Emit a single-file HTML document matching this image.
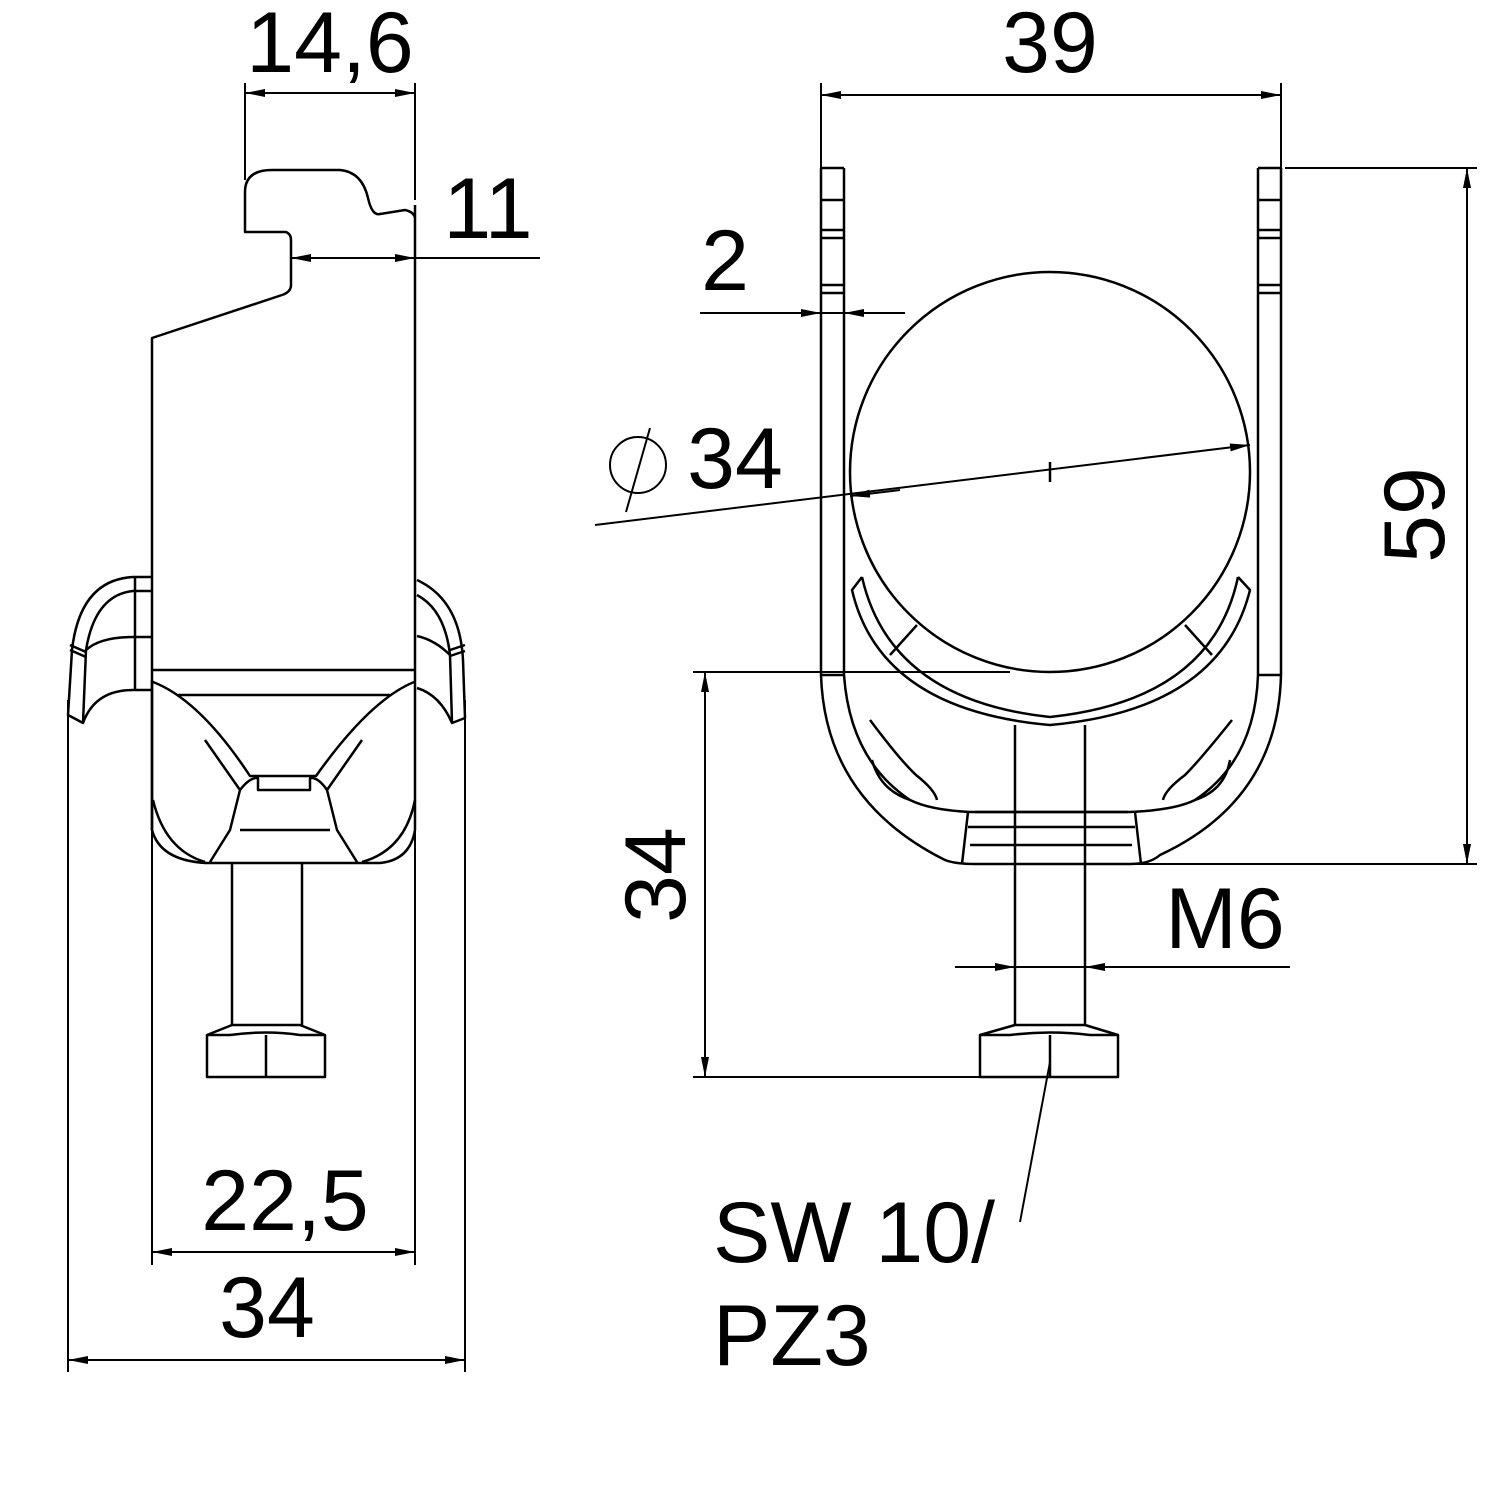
<!DOCTYPE html>
<html><head><meta charset="utf-8"><style>html,body{margin:0;padding:0;background:#fff}svg{display:block}text{font-family:"Liberation Sans",sans-serif;fill:#000}</style></head>
<body>
<svg width="1500" height="1500" viewBox="0 0 1500 1500" xmlns="http://www.w3.org/2000/svg">
<defs>
<marker id="a" viewBox="0 0 20 8" refX="20" refY="4" markerWidth="20" markerHeight="8" markerUnits="userSpaceOnUse" orient="auto-start-reverse"><path d="M0,0 L20,4 L0,8 Z" fill="#000"/></marker>
</defs>
<g fill="none" stroke="#000" stroke-width="2.5" stroke-linejoin="round">
<path d="M245,228 L245,192 Q245,170 272,170 L340,170 Q362,172 368,198 Q372,216 380,214 L405,210 Q414,212 415,218"/>
<path d="M245,228 L245,232 L286,232 Q291,234 291,240 L291,285 Q291,292 282,295 L152,338 L152,830"/>
<line x1="415" y1="205" x2="415" y2="830"/>
<line x1="152" y1="670" x2="415" y2="670"/>
<path d="M152,680 L152,830 Q160,860 205,863 L380,863 Q410,860 415,830"/>
<line x1="178" y1="695" x2="390" y2="695"/>
<path d="M153,682 Q200,700 250,776 L316,776 Q370,700 414,682"/>
<path d="M205,740 L240,790 L230,830 L210,862"/>
<path d="M362,740 L327,790 L337,830 L357,862"/>
<path d="M240,790 Q250,777 258,778 L258,790 L310,790 L310,778 Q318,777 327,790"/>
<line x1="240" y1="830" x2="330" y2="830"/>
<path d="M153,800 Q165,850 205,862"/>
<path d="M415,800 Q405,850 362,862"/>
<path d="M151,577 L133,577 Q80,580 72,650 L68,715 L83,723 Q95,690 133,690 L151,690"/>
<path d="M151,591 L133,591 Q95,595 86,650 L83,723"/>
<path d="M135,577 L135,690"/>
<path d="M86,650 Q100,637 133,637 L151,637"/>
<path d="M70,645 L86,652 M70,650 L86,657"/>
<path d="M417,580 Q460,600 463,660 L465,718 L452,723 Q440,695 417,688"/>
<path d="M417,595 Q445,610 450,655 L452,723"/>
<path d="M450,655 Q435,640 417,636"/>
<path d="M450,650 L465,645 M450,656 L465,651"/>
<line x1="232" y1="863" x2="232" y2="1025"/>
<line x1="302" y1="863" x2="302" y2="1025"/>
<path d="M232,1025 L300,1025 L325,1035 L325,1077 L207,1077 L207,1035 Z"/>
<path d="M266,1035 L266,1077 M207,1035 L230,1035 Q266,1030 300,1035 L325,1035"/>
<path d="M821,168 L821,675 Q825,800 945,860 Q955,864 975,864 L1130,864 Q1150,864 1160,855 Q1278,800 1281,675 L1281,168"/>
<line x1="821" y1="168" x2="844" y2="168"/>
<line x1="1258" y1="168" x2="1281" y2="168"/>
<path d="M844,168 L844,675 Q850,760 910,800 Q930,810 970,812 L1130,812 Q1175,810 1195,800 Q1255,760 1258,675 L1258,168"/>
<line x1="821" y1="675" x2="844" y2="675"/>
<line x1="1258" y1="675" x2="1281" y2="675"/>
<path d="M821,200 L844,200 M821,230 L844,230 M821,238 L844,238 M821,285 L844,285 M821,293 L844,293"/>
<path d="M1258,200 L1281,200 M1258,230 L1281,230 M1258,238 L1281,238 M1258,285 L1281,285 M1258,293 L1281,293"/>
<path d="M968,812 L962,864 M1135,812 L1141,864 M968,827 L1135,827 M975,812 L1128,812 M970,845 L1132,845"/>
<path d="M910,800 Q880,790 872,760 M1195,800 Q1225,790 1230,760"/>
<path d="M870,720 Q900,760 916,775 Q935,790 937,800 M1232,720 Q1200,760 1185,775 Q1165,790 1163,800"/>
<path d="M862,577 L852,590 Q880,710 1050,725 Q1220,710 1250,590 L1238,577"/>
<path d="M862,577 Q890,700 1050,717 Q1212,700 1238,577"/>
<path d="M890,655 L917,625 M1212,655 L1185,625"/>
<circle cx="1050" cy="472" r="200"/>
<path d="M1050,462 L1050,482"/>
<line x1="1015" y1="725" x2="1015" y2="1025"/>
<line x1="1085" y1="725" x2="1085" y2="1025"/>
<path d="M1015,1025 L1085,1025 L1118,1035 L1118,1077 L980,1077 L980,1035 Z"/>
<path d="M1050,1035 L1050,1077 M980,1035 L1010,1035 Q1050,1030 1090,1035 L1118,1035"/>
</g>
<g fill="none" stroke="#000" stroke-width="2">
<line x1="245" y1="83" x2="245" y2="180"/>
<line x1="415" y1="83" x2="415" y2="200"/>
<line x1="245" y1="93" x2="415" y2="93" marker-start="url(#a)" marker-end="url(#a)"/>
<line x1="291" y1="258" x2="540" y2="258"/>
<line x1="330" y1="258" x2="291" y2="258" marker-end="url(#a)"/>
<line x1="380" y1="258" x2="415" y2="258" marker-end="url(#a)"/>
<line x1="152" y1="830" x2="152" y2="1265"/>
<line x1="415" y1="830" x2="415" y2="1265"/>
<line x1="152" y1="1252" x2="415" y2="1252" marker-start="url(#a)" marker-end="url(#a)"/>
<line x1="68" y1="700" x2="68" y2="1372"/>
<line x1="465" y1="700" x2="465" y2="1372"/>
<line x1="68" y1="1360" x2="465" y2="1360" marker-start="url(#a)" marker-end="url(#a)"/>
<line x1="821" y1="83" x2="821" y2="168"/>
<line x1="1281" y1="83" x2="1281" y2="168"/>
<line x1="821" y1="95" x2="1281" y2="95" marker-start="url(#a)" marker-end="url(#a)"/>
<line x1="700" y1="313" x2="905" y2="313"/>
<line x1="790" y1="313" x2="821" y2="313" marker-end="url(#a)"/>
<line x1="880" y1="313" x2="844" y2="313" marker-end="url(#a)"/>
<line x1="595" y1="525" x2="1250" y2="445" marker-end="url(#a)"/>
<line x1="900" y1="490" x2="850" y2="496" marker-end="url(#a)"/>
<line x1="1285" y1="168" x2="1477" y2="168"/>
<line x1="1135" y1="864" x2="1477" y2="864"/>
<line x1="1467" y1="168" x2="1467" y2="864" marker-start="url(#a)" marker-end="url(#a)"/>
<line x1="693" y1="672" x2="1010" y2="672"/>
<line x1="693" y1="1077" x2="980" y2="1077"/>
<line x1="705" y1="672" x2="705" y2="1077" marker-start="url(#a)" marker-end="url(#a)"/>
<line x1="955" y1="967" x2="1290" y2="967"/>
<line x1="985" y1="967" x2="1015" y2="967" marker-end="url(#a)"/>
<line x1="1115" y1="967" x2="1085" y2="967" marker-end="url(#a)"/>
<line x1="1050" y1="1062" x2="1020" y2="1222"/>
<circle cx="638" cy="465" r="28"/>
<line x1="626" y1="512" x2="650" y2="428"/>
</g>
<g font-size="86">
<text x="330" y="72" text-anchor="middle">14,6</text>
<text x="488" y="238" text-anchor="middle">11</text>
<text x="285" y="1230" text-anchor="middle">22,5</text>
<text x="267" y="1337" text-anchor="middle">34</text>
<text x="1050" y="72" text-anchor="middle">39</text>
<text x="725" y="290" text-anchor="middle">2</text>
<text x="735" y="488" text-anchor="middle">34</text>
<text x="1225" y="948" text-anchor="middle">M6</text>
<text x="713" y="1262">SW 10/</text>
<text x="713" y="1365">PZ3</text>
<text transform="translate(1444,515) rotate(-90)" text-anchor="middle">59</text>
<text transform="translate(685,875) rotate(-90)" text-anchor="middle">34</text>
</g>
</svg>
</body></html>
